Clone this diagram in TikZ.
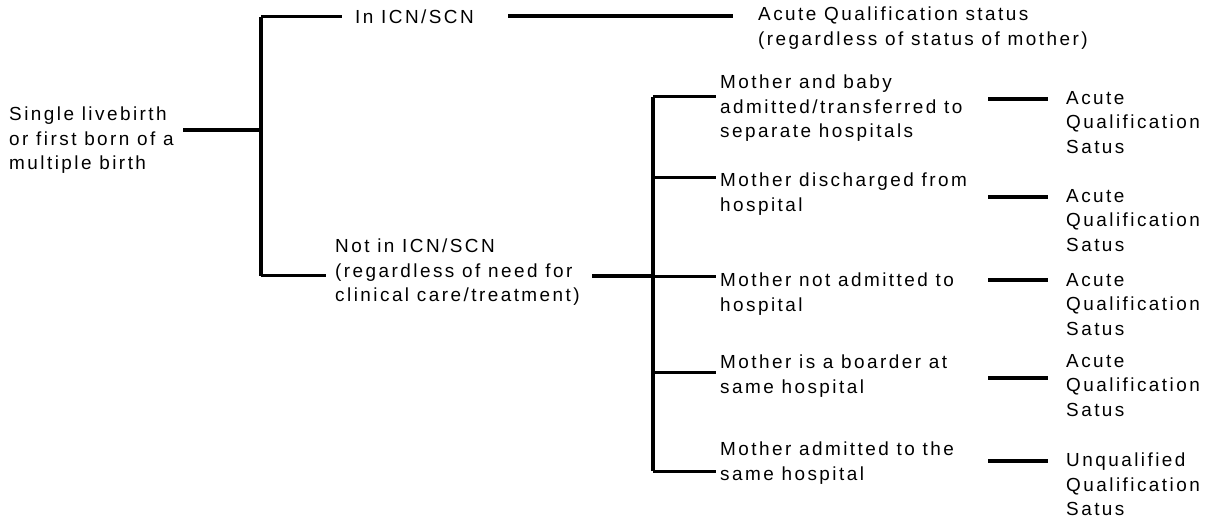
\documentclass[tikz,border=0pt]{standalone}
\usepackage{fontspec}
\setmainfont{Liberation Sans}[LetterSpace=13]
\begin{document}
\begin{tikzpicture}[x=1bp,y=-1bp,
  txt/.style={font=\fontsize{19}{24.5}\selectfont, inner sep=0pt, anchor=north west, align=left,
    execute at begin node={\rule{0pt}{14bp}}},
  vline/.style={line width=3.5bp},
  bline/.style={line width=3bp},
  hline/.style={line width=4.3bp},
  rline/.style={line width=3.3bp}]
\useasboundingbox (0,0) rectangle (1215,519);
% text nodes (north west = first baseline - 14)
\node[txt] (root) at (9,107) {Single livebirth\\or first born of a\\multiple birth};
\node[txt] (in) at (355,9) {In ICN/SCN};
\node[txt] (acute0) at (758,7) {Acute Qualification status\\(regardless of status of mother)};
\node[txt] (notin) at (335,239) {Not in ICN/SCN\\(regardless of need for\\clinical care/treatment)};
\node[txt] (m1) at (720,75) {Mother and baby\\admitted/transferred to\\separate hospitals};
\node[txt] (m2) at (720,173) {Mother discharged from\\hospital};
\node[txt] (m3) at (720,273) {Mother not admitted to\\hospital};
\node[txt] (m4) at (720,355) {Mother is a boarder at\\same hospital};
\node[txt] (m5) at (720,442) {Mother admitted to the\\same hospital};
\node[txt] (r1) at (1066,91) {Acute\\Qualification\\Satus};
\node[txt] (r2) at (1066,189) {Acute\\Qualification\\Satus};
\node[txt] (r3) at (1066,273) {Acute\\Qualification\\Satus};
\node[txt] (r4) at (1066,354) {Acute\\Qualification\\Satus};
\node[txt] (r5) at (1066,453) {Unqualified\\Qualification\\Satus};
% junction coordinates
\coordinate (rootend) at (183,130);
\coordinate (j1) at (261,130);
\coordinate (j1top) at (261,17);
\coordinate (j1bot) at (261,276);
\coordinate (inL) at (342,17);
\coordinate (inR) at (508,16);
\coordinate (acL) at (733,16);
\coordinate (notL) at (326,276);
\coordinate (notR) at (592,276);
\coordinate (j2) at (653,276);
\coordinate (j2top) at (653,97);
\coordinate (j2bot) at (653,471);
\coordinate (b1) at (716,97);
\coordinate (b2) at (716,178);
\coordinate (b3) at (716,277);
\coordinate (b4) at (716,373);
\coordinate (b5) at (716,471);
\coordinate (c1a) at (988,99);   \coordinate (c1b) at (1048,99);
\coordinate (c2a) at (988,197);  \coordinate (c2b) at (1048,197);
\coordinate (c3a) at (988,280);  \coordinate (c3b) at (1048,280);
\coordinate (c4a) at (988,378);  \coordinate (c4b) at (1048,378);
\coordinate (c5a) at (988,461);  \coordinate (c5b) at (1048,461);
% connectors
\draw[rline] (rootend) -- (j1);
\draw[vline] (j1top) -- (j1bot);
\draw[bline] (j1top) -- (inL);
\draw[bline] (j1bot) -- (notL);
\draw[hline] (inR) -- (acL);
\draw[hline] (notR) -- (j2);
\draw[vline] (j2top) -- (j2bot);
\draw[bline] (j2top) -- (b1);
\draw[bline] (j2top |- b2) -- (b2);
\draw[bline] (j2top |- b3) -- (b3);
\draw[bline] (j2top |- b4) -- (b4);
\draw[bline] (j2bot) -- (b5);
\draw[hline] (c1a) -- (c1b);
\draw[hline] (c2a) -- (c2b);
\draw[hline] (c3a) -- (c3b);
\draw[hline] (c4a) -- (c4b);
\draw[hline] (c5a) -- (c5b);
\end{tikzpicture}
\end{document}
